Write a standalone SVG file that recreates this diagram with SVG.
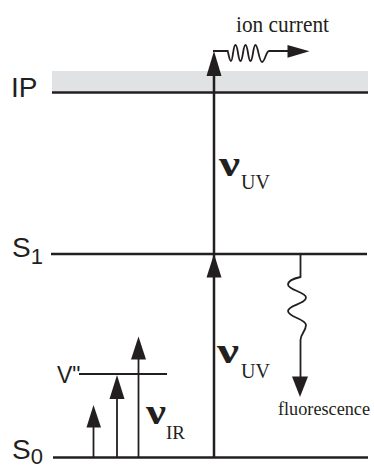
<svg xmlns="http://www.w3.org/2000/svg" width="374" height="466" viewBox="0 0 374 466">
<defs>
<style>
.lvl{stroke:#231f20;stroke-width:2.5;fill:none}
.thin{stroke:#231f20;stroke-width:1.8;fill:none}
.head{fill:#231f20;stroke:none}
.sans{font-family:"Liberation Sans",Arial,sans-serif;fill:#231f20}
.serif{font-family:"Liberation Serif","Times New Roman",serif;fill:#231f20}
.nu{font-family:"Liberation Serif","Times New Roman",serif;fill:#231f20;font-size:35px;font-weight:bold}
</style>
</defs>
<rect id="ion-band" x="52" y="71" width="316" height="21" fill="#e1e2e3"/>
<g id="level-IP">
<line class="lvl" x1="52" y1="92.5" x2="368" y2="92.5"/>
<text class="sans" x="11" y="97" font-size="28">IP</text>
</g>
<g id="level-S1">
<line class="lvl" x1="51" y1="254" x2="367" y2="254"/>
<text class="sans" x="12" y="257.3" font-size="28">S<tspan font-size="22" y="264.3">1</tspan></text>
</g>
<g id="level-S0">
<line class="lvl" x1="53" y1="457.5" x2="368" y2="457.5"/>
<text class="sans" x="12" y="459.3" font-size="28">S<tspan font-size="22" y="464">0</tspan></text>
</g>
<g id="level-V">
<line class="thin" x1="79" y1="374" x2="167" y2="374" stroke-width="2"/>
<text class="sans" x="57" y="383.3" font-size="23">V"</text>
</g>
<g id="connectors">
<line class="lvl" x1="214" y1="457.5" x2="214" y2="60"/>
<polygon class="head" points="214,51 206.5,76 221.5,76"/>
<polygon class="head" points="214,254 206.5,277.5 221.5,277.5"/>
<path class="thin" stroke-width="2" d="M213,51 L227.7,51 C229,56 229.5,61 231,61 C233,61 233,45 235.5,45 C238,45 238,61 240.5,61 C243,61 243,45 245.5,45 C248,45 248,61 250.5,61 C253,61 253,45 255.5,45 C258,45 259,62 262,62 C265,62 266,51 269,51 L289,51"/>
<polygon class="head" points="309.5,51.3 287.5,45 287.5,57.7"/>
<path class="thin" stroke-width="2" d="M300.5,254 L300.5,277 C296,278 288,280 288,284.5 C288,290 306,292 306,297.5 C306,304 288,305 288,311 C288,317 306,319 306,325 C306,331 300.5,334 300.5,340 L300.5,380"/>
<polygon class="head" points="300,397 292,376.5 308,376.5"/>
<line class="thin" x1="93.5" y1="457.5" x2="93.5" y2="420"/>
<polygon class="head" points="93.5,405 86.5,427.5 101,427.5"/>
<line class="thin" x1="117" y1="457.5" x2="117" y2="390"/>
<polygon class="head" points="117,375 109.5,399 124.5,399"/>
<line class="thin" x1="138.5" y1="457.5" x2="138.5" y2="350"/>
<polygon class="head" points="138.5,336.5 131,359.5 146,359.5"/>
</g>
<g id="labels">
<text class="serif" x="236" y="32.3" font-size="24" textLength="93" lengthAdjust="spacingAndGlyphs">ion current</text>
<text class="serif" x="278" y="415" font-size="18" textLength="92" lengthAdjust="spacingAndGlyphs">fluorescence</text>
<text class="nu" x="219" y="175.7" textLength="21" lengthAdjust="spacingAndGlyphs">ν</text>
<text class="serif" x="241" y="189" font-size="20">UV</text>
<text class="nu" x="217" y="363.3" textLength="22" lengthAdjust="spacingAndGlyphs">ν</text>
<text class="serif" x="241" y="378.3" font-size="20">UV</text>
<text class="nu" x="146" y="424" textLength="20" lengthAdjust="spacingAndGlyphs">ν</text>
<text class="serif" x="166" y="439" font-size="19">IR</text>
</g>
</svg>
